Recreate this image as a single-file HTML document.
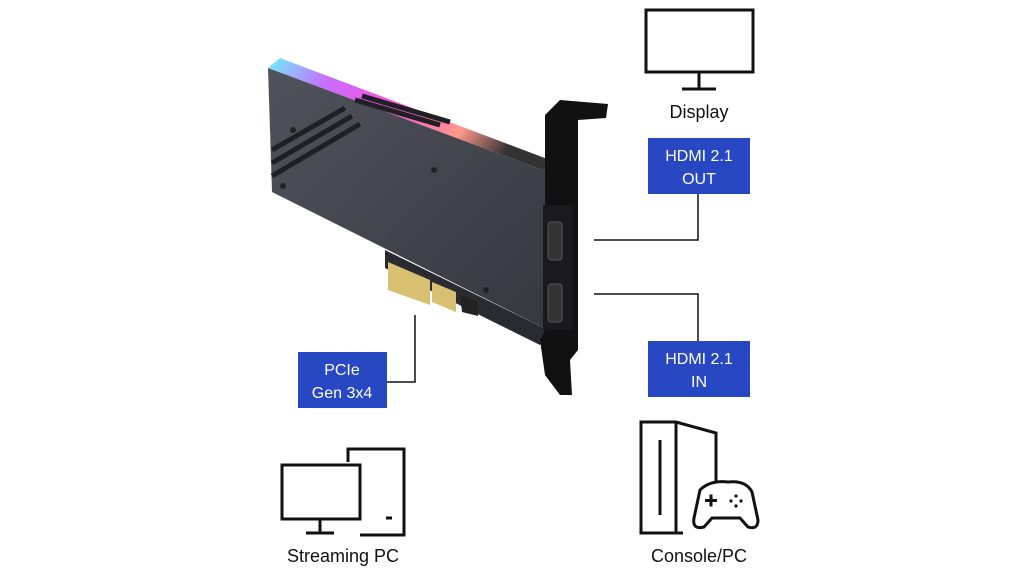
<!DOCTYPE html>
<html><head><style>
body{margin:0;background:#fff;width:1024px;height:576px;overflow:hidden}
svg{display:block}
text{font-family:"Liberation Sans",sans-serif}
</style></head><body>
<svg width="1024" height="576" viewBox="0 0 1024 576">
<defs>
<linearGradient id="rgb" x1="0" y1="0" x2="1" y2="0.3">
<stop offset="0" stop-color="#6ff0ff"/><stop offset="0.25" stop-color="#c86cff"/><stop offset="0.55" stop-color="#ff4fd8"/><stop offset="0.8" stop-color="#ff9a8a"/><stop offset="1" stop-color="#333"/>
</linearGradient>
<linearGradient id="face" x1="0" y1="0" x2="1" y2="1">
<stop offset="0" stop-color="#50535b"/><stop offset="1" stop-color="#363840"/>
</linearGradient>
</defs>
<!-- pcb strip -->
<polygon points="385,250 548,330 540,345 385,268" fill="#2a2b30"/>
<!-- card -->
<polygon points="268,68 280,58 550,160 548,172" fill="url(#rgb)"/>
<polygon points="268,68 548,172 548,330 272,192" fill="url(#face)"/>
<g stroke="#1f2024" stroke-width="5">
<line x1="272" y1="150" x2="345" y2="108"/><line x1="272" y1="163" x2="352" y2="116"/><line x1="272" y1="176" x2="360" y2="124"/>
<line x1="355" y1="100" x2="440" y2="125"/><line x1="362" y1="96" x2="450" y2="122"/>
</g>
<g fill="#222"><circle cx="293" cy="130" r="3"/><circle cx="283" cy="186" r="3"/><circle cx="434" cy="170" r="3"/><circle cx="486" cy="290" r="3"/></g>
<polygon points="388,262 430,280 430,305 388,290" fill="#d8c070"/>
<polygon points="432,282 456,292 456,312 432,302" fill="#d8c070"/>
<polygon points="460,295 478,302 478,316 462,312" fill="#222"/>
<!-- bracket -->
<polygon points="545,115 560,100 608,104 606,118 578,120 578,350 570,360 572,395 560,395 545,375 540,340 545,330" fill="#111"/>
<rect x="543" y="205" width="30" height="125" fill="#1a1a1c"/>
<rect x="548" y="222" width="14" height="38" rx="3" fill="#333" stroke="#555"/>
<rect x="548" y="284" width="14" height="38" rx="3" fill="#333" stroke="#555"/>
<!-- connectors -->
<g stroke="#111" stroke-width="1.5" fill="none">
<polyline points="594,240 698,240 698,194"/>
<polyline points="594,294 698,294 698,341"/>
<polyline points="415,315 415,382 387,382"/>
</g>
<g fill="#2747c3">
<rect x="648" y="138" width="102" height="56"/>
<rect x="648" y="341" width="102" height="56"/>
<rect x="298" y="352" width="89" height="56"/>
</g>
<g fill="#fff" font-size="16" text-anchor="middle">
<text x="699" y="161">HDMI 2.1</text><text x="699" y="184">OUT</text>
<text x="699" y="364">HDMI 2.1</text><text x="699" y="387">IN</text>
<text x="342" y="375">PCIe</text><text x="342" y="398">Gen 3x4</text>
</g>
<g stroke="#111" stroke-width="3" fill="none">
<rect x="646" y="10" width="107" height="62"/>
<line x1="699" y1="73" x2="699" y2="88"/><line x1="682" y1="89" x2="716" y2="89"/>
<rect x="282" y="465" width="78" height="54"/>
<line x1="320" y1="520" x2="320" y2="532"/><line x1="306" y1="533" x2="334" y2="533"/>
<polyline points="348,462 348,449 404,449 404,535 360,535"/>
<line x1="386" y1="518" x2="392" y2="518"/>
<polyline points="683,533 641,533 641,422 676,422 716,433 716,493"/>
<line x1="676" y1="422" x2="676" y2="533"/>
<line x1="660" y1="440" x2="660" y2="515"/>
<path d="M700,490 Q710,480 728,482 Q746,480 752,492 L758,520 Q758,530 748,527 L740,518 L712,518 L704,527 Q692,530 694,518 Z" fill="#fff"/>
</g>
<g fill="#111"><rect x="705" y="499" width="12" height="3"/><rect x="709.5" y="494.5" width="3" height="12"/>
<circle cx="736" cy="496" r="1.6"/><circle cx="736" cy="506" r="1.6"/><circle cx="731" cy="501" r="1.6"/><circle cx="741" cy="501" r="1.6"/></g>
<g fill="#111" font-size="18" text-anchor="middle">
<text x="699" y="118">Display</text>
<text x="343" y="562">Streaming PC</text>
<text x="699" y="562">Console/PC</text>
</g>
</svg>
</body></html>
